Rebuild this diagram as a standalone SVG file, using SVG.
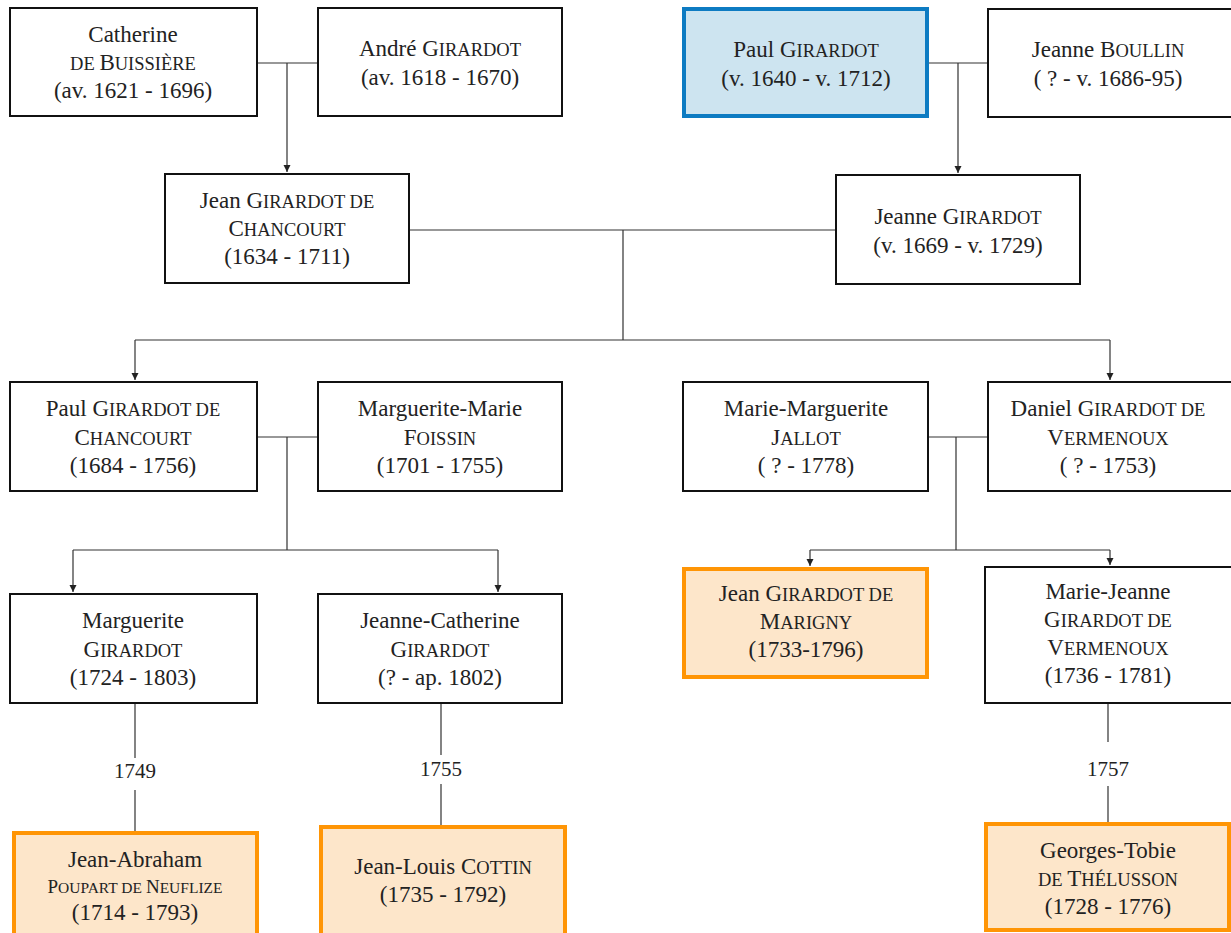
<svg xmlns="http://www.w3.org/2000/svg" width="1231" height="933" viewBox="0 0 1231 933">
<defs>
<marker id="arr" markerWidth="8" markerHeight="8" refX="7" refY="4" orient="auto" markerUnits="userSpaceOnUse">
<path d="M0,0.5 L7,4 L0,7.5 Z" fill="#222"/>
</marker>
<style>
rect.n{fill:#fff;stroke:#111;stroke-width:2}
rect.b{fill:#cde4f0;stroke:#0d7bc2;stroke-width:4}
rect.o{fill:#fde6ca;stroke:#ff9505;stroke-width:4}
text{font-size:23px;fill:#222;text-anchor:middle}
.sc{font-size:18.5px}
.yr{font-size:21px}
.sm{font-size:19px}
.ssc{font-size:15.5px}
#connectors path{fill:none;stroke:#333;stroke-width:1.2}
</style>
</defs>
<rect width="1231" height="933" fill="#fff"/>
<g font-family="Liberation Serif, DejaVu Serif, Noto Serif, Times New Roman, serif">
<g id="connectors">
<path d="M257,63 H318 M287,63 V172" marker-end="url(#arr)"/>
<path d="M928,63 H988 M958,63 V173" marker-end="url(#arr)"/>
<path d="M409,230 H836 M623,230 V340 M135,340 H1110"/>
<path d="M135,340 V380" marker-end="url(#arr)"/>
<path d="M1110,340 V380" marker-end="url(#arr)"/>
<path d="M257,437 H318 M287,437 V550 M73,550 H498"/>
<path d="M73,550 V592" marker-end="url(#arr)"/>
<path d="M498,550 V592" marker-end="url(#arr)"/>
<path d="M928,437 H988 M956,437 V550 M810,550 H1110"/>
<path d="M810,550 V566" marker-end="url(#arr)"/>
<path d="M1110,550 V565" marker-end="url(#arr)"/>
<path d="M135,703 V758 M135,790 V832"/>
<path d="M441,703 V755 M441,784 V826"/>
<path d="M1108,703 V742 M1108,786 V823"/>
<text class="yr" x="135" y="778">1749</text>
<text class="yr" x="441" y="776">1755</text>
<text class="yr" x="1108" y="776">1757</text>
</g>
<g id="catherine">
<rect class="n" x="10" y="8" width="247" height="108"/>
<text x="133" y="42">Catherine</text>
<text x="133" y="70"><tspan class="sc">DE </tspan>B<tspan class="sc">UISSIÈRE</tspan></text>
<text x="133" y="98">(av. 1621 - 1696)</text>
</g>
<g id="andre">
<rect class="n" x="318" y="8" width="244" height="108"/>
<text x="440" y="56">André G<tspan class="sc">IRARDOT</tspan></text>
<text x="440" y="85">(av. 1618 - 1670)</text>
</g>
<g id="paul">
<rect class="b" x="684" y="9" width="243" height="107"/>
<text x="806" y="57">Paul G<tspan class="sc">IRARDOT</tspan></text>
<text x="806" y="86">(v. 1640 - v. 1712)</text>
</g>
<g id="jeanne-boullin">
<rect class="n" x="988" y="9" width="250" height="108"/>
<text x="1108" y="57">Jeanne B<tspan class="sc">OULLIN</tspan></text>
<text x="1108" y="86">( ? - v. 1686-95)</text>
</g>
<g id="jean-chancourt">
<rect class="n" x="165" y="174" width="244" height="109"/>
<text x="287" y="208">Jean G<tspan class="sc">IRARDOT DE</tspan></text>
<text x="287" y="236">C<tspan class="sc">HANCOURT</tspan></text>
<text x="287" y="264">(1634 - 1711)</text>
</g>
<g id="jeanne-girardot">
<rect class="n" x="836" y="175" width="244" height="109"/>
<text x="958" y="224">Jeanne G<tspan class="sc">IRARDOT</tspan></text>
<text x="958" y="253">(v. 1669 - v. 1729)</text>
</g>
<g id="paul-chancourt">
<rect class="n" x="10" y="382" width="247" height="109"/>
<text x="133" y="416">Paul G<tspan class="sc">IRARDOT DE</tspan></text>
<text x="133" y="445">C<tspan class="sc">HANCOURT</tspan></text>
<text x="133" y="473">(1684 - 1756)</text>
</g>
<g id="foissin">
<rect class="n" x="318" y="382" width="244" height="109"/>
<text x="440" y="416">Marguerite-Marie</text>
<text x="440" y="445">F<tspan class="sc">OISSIN</tspan></text>
<text x="440" y="473">(1701 - 1755)</text>
</g>
<g id="jallot">
<rect class="n" x="683" y="382" width="245" height="109"/>
<text x="806" y="416">Marie-Marguerite</text>
<text x="806" y="445">J<tspan class="sc">ALLOT</tspan></text>
<text x="806" y="473">( ? - 1778)</text>
</g>
<g id="daniel">
<rect class="n" x="988" y="382" width="250" height="109"/>
<text x="1108" y="416">Daniel G<tspan class="sc">IRARDOT DE</tspan></text>
<text x="1108" y="445">V<tspan class="sc">ERMENOUX</tspan></text>
<text x="1108" y="473">( ? - 1753)</text>
</g>
<g id="marguerite">
<rect class="n" x="10" y="594" width="247" height="109"/>
<text x="133" y="628">Marguerite</text>
<text x="133" y="657">G<tspan class="sc">IRARDOT</tspan></text>
<text x="133" y="685">(1724 - 1803)</text>
</g>
<g id="jeanne-catherine">
<rect class="n" x="318" y="594" width="244" height="109"/>
<text x="440" y="628">Jeanne-Catherine</text>
<text x="440" y="657">G<tspan class="sc">IRARDOT</tspan></text>
<text x="440" y="685">(? - ap. 1802)</text>
</g>
<g id="marigny">
<rect class="o" x="684" y="569" width="243" height="108"/>
<text x="806" y="601">Jean G<tspan class="sc">IRARDOT DE</tspan></text>
<text x="806" y="629">M<tspan class="sc">ARIGNY</tspan></text>
<text x="806" y="657">(1733-1796)</text>
</g>
<g id="marie-jeanne">
<rect class="n" x="985" y="567" width="250" height="136"/>
<text x="1108" y="599">Marie-Jeanne</text>
<text x="1108" y="627">G<tspan class="sc">IRARDOT DE</tspan></text>
<text x="1108" y="655">V<tspan class="sc">ERMENOUX</tspan></text>
<text x="1108" y="683">(1736 - 1781)</text>
</g>
<g id="neuflize">
<rect class="o" x="14" y="833" width="243" height="110"/>
<text x="135" y="867">Jean-Abraham</text>
<text class="sm" x="135" y="893">P<tspan class="ssc">OUPART DE </tspan>N<tspan class="ssc">EUFLIZE</tspan></text>
<text x="135" y="920">(1714 - 1793)</text>
</g>
<g id="cottin">
<rect class="o" x="321" y="827" width="244" height="116"/>
<text x="443" y="874">Jean-Louis C<tspan class="sc">OTTIN</tspan></text>
<text x="443" y="902">(1735 - 1792)</text>
</g>
<g id="thelusson">
<rect class="o" x="986" y="824" width="243" height="106"/>
<text x="1108" y="858">Georges-Tobie</text>
<text x="1108" y="886"><tspan class="sc">DE </tspan>T<tspan class="sc">HÉLUSSON</tspan></text>
<text x="1108" y="914">(1728 - 1776)</text>
</g>
</g>
</svg>
